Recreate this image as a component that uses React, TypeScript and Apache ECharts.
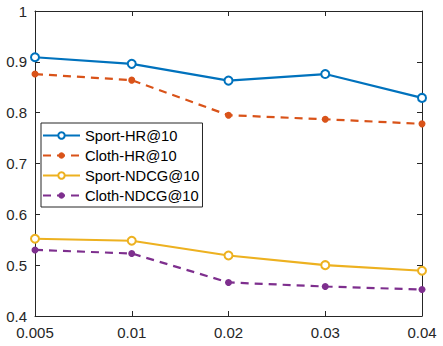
import React, { useEffect, useRef } from "react";
import * as echarts from "echarts";

const categories = ["0.005", "0.01", "0.02", "0.03", "0.04"];
const sportHR = [0.909, 0.896, 0.863, 0.876, 0.829];
const clothHR = [0.876, 0.864, 0.795, 0.787, 0.778];
const sportNDCG = [0.552, 0.548, 0.519, 0.5, 0.489];
const clothNDCG = [0.53, 0.523, 0.466, 0.458, 0.452];
const legendNames = ["Sport-HR@10", "Cloth-HR@10", "Sport-NDCG@10", "Cloth-NDCG@10"];

const FONT = "Liberation Sans";
const AXC = "#262626";

export default function App() {
  const ref = useRef<HTMLDivElement>(null);
  useEffect(() => {
    if (!ref.current) return;
    const chart = echarts.init(ref.current, null, { renderer: "svg" });
    const mk = (name: string, data: number[], color: string, dashed: boolean, filled: boolean) => ({
      name,
      type: "line",
      data,
      xAxisIndex: 0,
      yAxisIndex: 0,
      symbol: filled ? "circle" : "emptyCircle",
      symbolSize: filled ? 7 : 8,
      lineStyle: { color, width: 2.2, type: dashed ? [8, 6] : "solid" },
      itemStyle: { color, borderColor: color, borderWidth: filled ? 0 : 2 },
      z: 3,
    });
    chart.setOption({
      animation: false,
      textStyle: { fontFamily: FONT },
      grid: { left: 35, right: 21, top: 11, bottom: 30, containLabel: false },
      xAxis: [
        {
          type: "category",
          data: categories,
          boundaryGap: false,
          position: "bottom",
          axisLine: { lineStyle: { color: AXC, width: 1 } },
          axisTick: { inside: true, length: 5, lineStyle: { color: AXC } },
          axisLabel: { color: AXC, fontSize: 15, margin: 9, fontFamily: FONT },
          splitLine: { show: false },
        },
        {
          type: "category",
          data: categories,
          boundaryGap: false,
          position: "top",
          axisLine: { lineStyle: { color: AXC, width: 1 } },
          axisTick: { inside: true, length: 5, lineStyle: { color: AXC } },
          axisLabel: { show: false },
          splitLine: { show: false },
        },
      ],
      yAxis: [
        {
          type: "value",
          min: 0.4,
          max: 1,
          interval: 0.1,
          position: "left",
          axisLine: { show: true, lineStyle: { color: AXC, width: 1 } },
          axisTick: { show: true, inside: true, length: 5, lineStyle: { color: AXC } },
          axisLabel: {
            color: AXC,
            fontSize: 15,
            margin: 8,
            fontFamily: FONT,
            formatter: (v: number) => String(parseFloat(v.toFixed(2))),
          },
          splitLine: { show: false },
        },
        {
          type: "value",
          min: 0.4,
          max: 1,
          interval: 0.1,
          position: "right",
          axisLine: { show: true, lineStyle: { color: AXC, width: 1 } },
          axisTick: { show: true, inside: true, length: 5, lineStyle: { color: AXC } },
          axisLabel: { show: false },
          splitLine: { show: false },
        },
      ],
      legend: {
        orient: "vertical",
        left: 41,
        top: 123,
        itemWidth: 37,
        itemHeight: 8,
        itemGap: 5,
        padding: [5, 3, 4, 1],
        borderColor: AXC,
        borderWidth: 1,
        backgroundColor: "#fff",
        textStyle: { fontSize: 14.7, color: "#000", fontFamily: FONT },
        data: legendNames,
      },
      series: [
        mk(legendNames[0], sportHR, "#0072BD", false, false),
        mk(legendNames[1], clothHR, "#D95319", true, true),
        mk(legendNames[2], sportNDCG, "#EDB120", false, false),
        mk(legendNames[3], clothNDCG, "#7E2F8E", true, true),
      ],
    });
    return () => chart.dispose();
  }, []);
  return <div ref={ref} style={{ width: 443, height: 346, position: "absolute", left: 0, top: 0, background: "#fff" }} />;
}
